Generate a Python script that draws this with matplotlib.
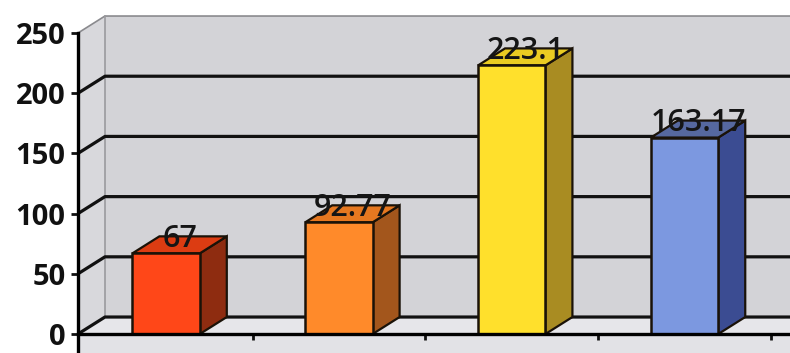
import matplotlib
matplotlib.use("Agg")
import matplotlib.pyplot as plt
from matplotlib.patches import Polygon, Rectangle

# chart values
categories = ["1", "2", "3", "4"]
values = [67, 92.77, 223.1, 163.17]
labels = ["67", "92.77", "223.1", "163.17"]
y_ticks = [0, 50, 100, 150, 200, 250]

front_colors = ["#FF4718", "#FF8A2A", "#FFE02C", "#7C98E0"]
top_colors = ["#DC3C12", "#E67820", "#EACB22", "#56689F"]
side_colors = ["#8E2C10", "#A3561C", "#A98C22", "#3B4C92"]

# fake 3D depth (x in category units, y in value units)
DX = 0.156
DY = 14.1
BAR_W = 0.39
X0, X1 = -0.51, 3.61
YMAX = 250

fig = plt.figure(figsize=(7.9, 3.53), dpi=100)
fig.patch.set_facecolor("white")
ax = fig.add_axes([78 / 790, 19 / 353, 712 / 790, 301 / 353])
ax.set_xlim(X0, X1)
ax.set_ylim(0, YMAX)
ax.set_facecolor("none")

wall = "#D3D3D7"
# strip under the floor
ax.add_patch(Rectangle((X0, -20), X1 - X0, 20, facecolor="#E2E2E6",
                       edgecolor="none", clip_on=False, zorder=0))
# back wall
ax.add_patch(Polygon([(X0 + DX, DY), (X1 + 1, DY), (X1 + 1, YMAX + DY), (X0 + DX, YMAX + DY)],
                     closed=True, facecolor=wall, edgecolor="none", clip_on=False, zorder=0))
# side wall
ax.add_patch(Polygon([(X0, 0), (X0 + DX, DY), (X0 + DX, YMAX + DY), (X0, YMAX)],
                     closed=True, facecolor="#D8D8DC", edgecolor="none", clip_on=False, zorder=0))
# floor
ax.add_patch(Polygon([(X0, 0), (X1 + 1, 0), (X1 + 1, DY), (X0 + DX, DY)],
                     closed=True, facecolor="#E6E6EA", edgecolor="none", clip_on=False, zorder=0))

# wall edges
ax.plot([X0, X0 + DX, X1 + 1], [YMAX, YMAX + DY, YMAX + DY], color="#8A8A8E",
        lw=1.2, clip_on=False, zorder=1)
ax.plot([X0 + DX, X0 + DX], [DY, YMAX + DY], color="#9A9A9E", lw=1.2, clip_on=False, zorder=1)

# gridlines on side and back walls
for v in y_ticks[:-1]:
    ax.plot([X0, X0 + DX, X1 + 1], [v, v + DY, v + DY], color="#111111",
            lw=2.3, clip_on=False, zorder=2, solid_capstyle="butt")

# bars
for i, (v, lab) in enumerate(zip(values, labels)):
    xl = i - BAR_W / 2
    xr = i + BAR_W / 2
    ec = "#1A1208"
    side = Polygon([(xr, 0), (xr + DX, DY), (xr + DX, v + DY), (xr, v)],
                   closed=True, facecolor=side_colors[i], edgecolor=ec, lw=1.6,
                   clip_on=False, zorder=3)
    top = Polygon([(xl, v), (xr, v), (xr + DX, v + DY), (xl + DX, v + DY)],
                  closed=True, facecolor=top_colors[i], edgecolor=ec, lw=1.6,
                  clip_on=False, zorder=3)
    front = Rectangle((xl, 0), BAR_W, v, facecolor=front_colors[i], edgecolor=ec,
                      lw=1.8, clip_on=False, zorder=4)
    ax.add_patch(side)
    ax.add_patch(top)
    ax.add_patch(front)
    ax.text(i + DX / 2, v + 5.5, lab, ha="center", va="baseline", fontsize=22,
            family="Open Sans", fontweight="semibold", color="#151515", zorder=6,
            clip_on=False)

# axes
for s in ["top", "right"]:
    ax.spines[s].set_visible(False)
ax.spines["left"].set_linewidth(2.4)
ax.spines["bottom"].set_linewidth(2.4)
ax.spines["left"].set_zorder(5)
ax.spines["bottom"].set_zorder(5)
ax.spines["left"].set_bounds(-14, YMAX)

ax.set_yticks(y_ticks)
ax.set_yticklabels([str(t) for t in y_ticks], fontsize=21, family="Open Sans",
                   fontweight="bold", color="#111111")
ax.tick_params(axis="y", length=5, width=2, pad=4, colors="#111111")
ax.set_xticks([i + 0.5 for i in range(len(categories))])
ax.set_xticklabels([])
ax.tick_params(axis="x", length=4, width=2, colors="#111111")

fig.savefig("out.png", dpi=100)
